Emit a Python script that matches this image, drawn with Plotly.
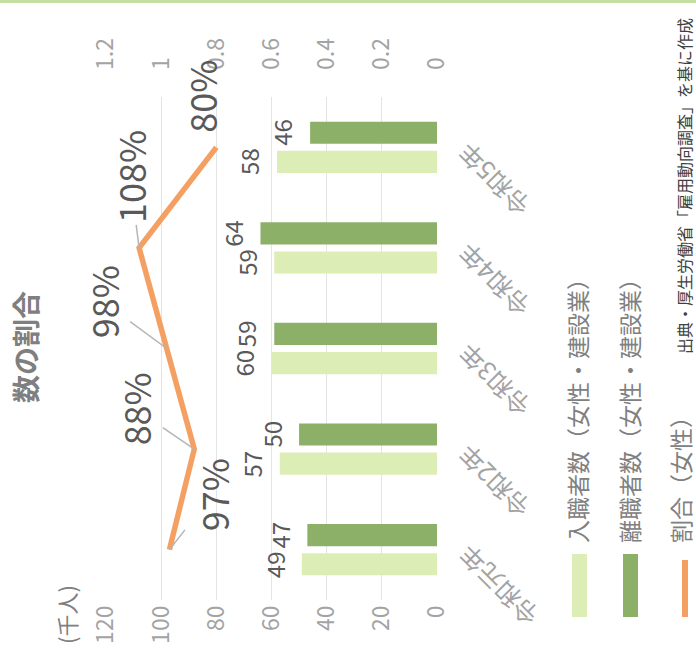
import plotly.graph_objects as go

# ---------------- data ----------------
categories = ["令和元年", "令和2年", "令和3年", "令和4年", "令和5年"]
hires = [49, 57, 60, 59, 58]          # 入職者数（女性・建設業）
separations = [47, 50, 59, 64, 46]    # 離職者数（女性・建設業）
ratio = [0.97, 0.88, 0.98, 1.08, 0.80]  # 割合（女性）
ratio_labels = ["97%", "88%", "98%", "108%", "80%"]
value_ticks = [0, 20, 40, 60, 80, 100, 120]
value_ticktext = ["0", "20", "40", "60", "80", "100", "120"]
ratio_ticks = [0, 0.2, 0.4, 0.6, 0.8, 1.0, 1.2]
ratio_ticktext = ["0", "0.2", "0.4", "0.6", "0.8", "1", "1.2"]
series_names = ["入職者数（女性・建設業）", "離職者数（女性・建設業）", "割合（女性）"]
title_text = "数の割合"
unit_text = "(千人)"
source_text = "出典・厚生労働省「雇用動向調査」を基に作成"

# ---------------- style / layout ----------------
FONT = "Noto Sans CJK JP"
W, H = 696, 668
L, R, T, B = 106, 437, 97, 600
LIGHT = "#DDEDB6"
DARK = "#8DB068"
ORANGE = "#F5A063"
TICK_COL = "#a3a3a3"
LABEL_COL = "#595959"
LEG_COL = "#808080"


def px2x(px):
    return (px - L) / (R - L)


def py2y(py):
    return (B - py) / (B - T)


fig = go.Figure()
fig.add_trace(go.Bar(x=hires, y=categories, orientation="h", name=series_names[0],
                     marker=dict(color=LIGHT, line=dict(width=0)), xaxis="x", yaxis="y"))
fig.add_trace(go.Bar(x=separations, y=categories, orientation="h", name=series_names[1],
                     marker=dict(color=DARK, line=dict(width=0)), xaxis="x", yaxis="y"))
fig.add_trace(go.Scatter(x=ratio, y=categories, mode="lines", name=series_names[2],
                         line=dict(color=ORANGE, width=5.5), xaxis="x2", yaxis="y"))

ann = []
BAR_SHIFT = 14.6
# bar value labels
for cat, v in zip(categories, hires):
    ann.append(dict(x=v, y=cat, xref="x", yref="y", text=str(v), showarrow=False,
                    textangle=-90, xshift=-28, yshift=-BAR_SHIFT,
                    font=dict(family=FONT, size=24, color=LABEL_COL)))
for cat, v in zip(categories, separations):
    ann.append(dict(x=v, y=cat, xref="x", yref="y", text=str(v), showarrow=False,
                    textangle=-90, xshift=-28, yshift=BAR_SHIFT,
                    font=dict(family=FONT, size=24, color=LABEL_COL)))

# ratio labels with leader lines
label_offsets = [(43, -55, True), (-59, -40, True), (-64, -47, True), (-9, -71, True), (-15, -51, False)]
for cat, r, t, (ax, ay, arrow) in zip(categories, ratio, ratio_labels, label_offsets):
    d = dict(x=r, y=cat, xref="x2", yref="y", text=t, textangle=-90,
             font=dict(family=FONT, size=36, color=LABEL_COL))
    if arrow:
        d.update(showarrow=True, ax=ax, ay=ay, arrowhead=0, arrowwidth=1.5,
                 arrowcolor="#b5b5b5", standoff=0)
    else:
        d.update(showarrow=False, xshift=ax, yshift=-ay)
    ann.append(d)

# category labels (rotated)
for cat in categories:
    ann.append(dict(x=1.0, y=cat, xref="paper", yref="y", text=cat, showarrow=False,
                    textangle=-135, xanchor="left", yanchor="top", xshift=10, yshift=14,
                    font=dict(family=FONT, size=25, color=TICK_COL)))

# title, unit, source
ann.append(dict(x=px2x(25), y=py2y(405), xref="paper", yref="paper", text="<b>" + title_text + "</b>",
                showarrow=False, textangle=-90, xanchor="center", yanchor="bottom",
                font=dict(family=FONT, size=28, color="#7f7f7f")))
ann.append(dict(x=px2x(66), y=py2y(615), xref="paper", yref="paper", text=unit_text,
                showarrow=False, textangle=-90, xanchor="center", yanchor="middle",
                font=dict(family=FONT, size=22, color="#7f7f7f")))
ann.append(dict(x=px2x(684), y=py2y(356), xref="paper", yref="paper", text=source_text,
                showarrow=False, textangle=-90, xanchor="center", yanchor="bottom",
                font=dict(family=FONT, size=16, color="#404040")))

# legend (rotated, drawn manually)
leg_text_x = [577, 629, 680]
for name, lx in zip(series_names, leg_text_x):
    ann.append(dict(x=px2x(lx), y=py2y(545), xref="paper", yref="paper", text=name,
                    showarrow=False, textangle=-90, xanchor="center", yanchor="bottom",
                    font=dict(family=FONT, size=23, color=LEG_COL)))

shapes = [
    dict(type="rect", xref="paper", yref="paper", x0=px2x(572), x1=px2x(587),
         y0=py2y(617), y1=py2y(554), fillcolor=LIGHT, line=dict(width=0)),
    dict(type="rect", xref="paper", yref="paper", x0=px2x(623), x1=px2x(638),
         y0=py2y(617), y1=py2y(554), fillcolor=DARK, line=dict(width=0)),
    dict(type="line", xref="paper", yref="paper", x0=px2x(685), x1=px2x(685),
         y0=py2y(617), y1=py2y(560), line=dict(color=ORANGE, width=6)),
    dict(type="rect", xref="paper", yref="paper", x0=px2x(0), x1=px2x(W),
         y0=py2y(3), y1=py2y(0), fillcolor="#c6e0a4", line=dict(width=0)),
]

fig.update_layout(
    width=W, height=H,
    margin=dict(l=L, r=W - R, t=T, b=H - B, pad=0),
    paper_bgcolor="white", plot_bgcolor="white",
    showlegend=False,
    barmode="group", bargap=0.42, bargroupgap=0.24,
    font=dict(family=FONT, color=TICK_COL),
    xaxis=dict(range=[120, 0], tickvals=value_ticks, ticktext=value_ticktext,
               tickangle=-90, showgrid=True, gridcolor="#e4e4e4", gridwidth=1,
               zeroline=False, showline=False, ticks="", ticklen=0,
               tickfont=dict(family=FONT, size=23, color=TICK_COL),
               ticklabelstandoff=0),
    xaxis2=dict(range=[1.2, 0], tickvals=ratio_ticks, ticktext=ratio_ticktext,
                overlaying="x", side="top", anchor="y", tickangle=-90,
                showgrid=False, zeroline=False, showline=False, ticks="",
                tickfont=dict(family=FONT, size=23, color=TICK_COL),
                ticklabelstandoff=26),
    yaxis=dict(type="category", categoryarray=categories, categoryorder="array",
               range=[-0.5, 4.5], showticklabels=False, showgrid=False,
               zeroline=False, showline=False, ticks=""),
    annotations=ann,
    shapes=shapes,
)

fig.write_html("out.html")
